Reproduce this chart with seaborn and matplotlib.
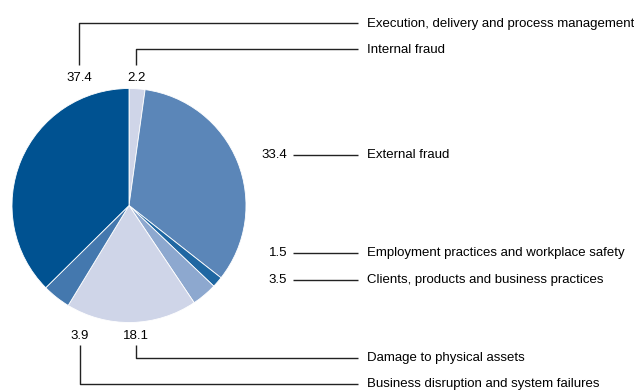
import matplotlib
matplotlib.use("Agg")
import matplotlib.pyplot as plt
import seaborn as sns

# Operational loss shares by event type (%), clockwise from 12 o'clock
categories = [
    "Internal fraud",
    "External fraud",
    "Employment practices and workplace safety",
    "Clients, products and business practices",
    "Damage to physical assets",
    "Business disruption and system failures",
    "Execution, delivery and process management",
]
values = [2.2, 33.4, 1.5, 3.5, 18.1, 3.9, 37.4]
value_labels = ["2.2", "33.4", "1.5", "3.5", "18.1", "3.9", "37.4"]
colors = ["#CFD5E8", "#5B86B8", "#1F67A2", "#8DA8CF", "#CFD5E8", "#4478AE", "#005291"]

sns.set_theme(style="white")
plt.rcParams["font.family"] = ["Liberation Sans", "DejaVu Sans"]

W, H = 634, 392
fig = plt.figure(figsize=(W / 100, H / 100), dpi=100)
ax = fig.add_axes([0, 0, 1, 1])

def py(y):
    # top-down pixel row to data y
    return H - y

ax.pie(values, colors=colors, startangle=90, counterclock=False,
       center=(129, py(205.5)), radius=117, frame=True,
       wedgeprops=dict(edgecolor="white", linewidth=0.6))
ax.set_xlim(0, W)
ax.set_ylim(0, H)
ax.set_aspect("equal")
ax.axis("off")

fs = 9.5
line_kw = dict(color="#222222", lw=1.0, solid_capstyle="butt")
label_x = 367
line_end = 358

# (value label anchor, leader line path, category text row)
layout = {
    "Execution, delivery and process management":
        dict(num=(79, 78, "center"), path=[(79, 65), (79, 23), (line_end, 23)], row=23.5),
    "Internal fraud":
        dict(num=(136, 78, "center"), path=[(136, 65), (136, 49), (line_end, 49)], row=49.5),
    "External fraud":
        dict(num=(287, 155, "right"), path=[(293, 155), (line_end, 155)], row=155),
    "Employment practices and workplace safety":
        dict(num=(287, 253, "right"), path=[(293, 253), (line_end, 253)], row=253),
    "Clients, products and business practices":
        dict(num=(287, 280, "right"), path=[(293, 280), (line_end, 280)], row=280),
    "Damage to physical assets":
        dict(num=(136, 336, "center"), path=[(136, 345), (136, 358), (line_end, 358)], row=358),
    "Business disruption and system failures":
        dict(num=(80, 336, "center"), path=[(80, 345), (80, 384), (line_end, 384)], row=384),
}

for cat, lab in zip(categories, value_labels):
    spec = layout[cat]
    nx, ny, ha = spec["num"]
    ax.text(nx, py(ny), lab, ha=ha, va="center", fontsize=fs, color="black")
    xs = [p[0] for p in spec["path"]]
    ys = [py(p[1]) for p in spec["path"]]
    ax.plot(xs, ys, **line_kw)
    ax.text(label_x, py(spec["row"]), cat, ha="left", va="center",
            fontsize=fs, color="black")

fig.savefig("out.png", dpi=100, facecolor="white")
